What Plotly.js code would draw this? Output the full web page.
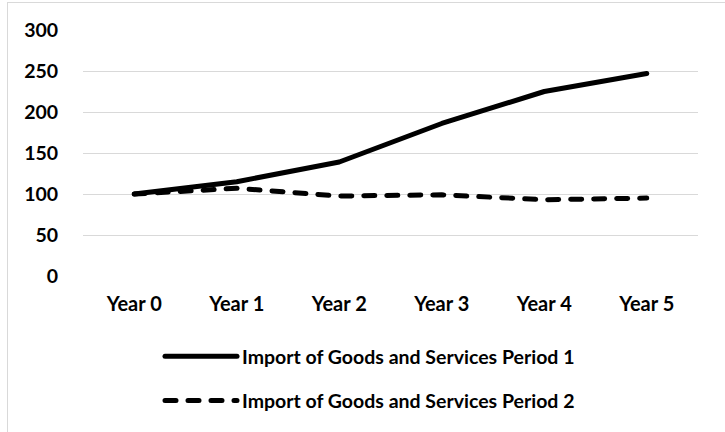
<!DOCTYPE html>
<html>
<head>
<meta charset="utf-8">
<script src="https://cdn.plot.ly/plotly-3.0.1.min.js"></script>
<style>
html,body{margin:0;padding:0;background:#fff;}
#wrap{position:relative;width:725px;height:432px;overflow:hidden;}
#chart{position:absolute;left:0;top:0;width:725px;height:432px;}
#frame{position:absolute;left:7px;top:2px;width:800px;height:500px;border:1px solid #d9d9d9;pointer-events:none;}
.js-line{stroke-linecap:round;stroke-linejoin:round;}
</style>
</head>
<body>
<div id="wrap"><div id="chart"></div><div id="frame"></div></div>
<script>
const categories = ["Year 0", "Year 1", "Year 2", "Year 3", "Year 4", "Year 5"];
const period1 = [100, 115, 139, 186, 225, 247];
const period2 = [100, 107, 97.5, 99, 93, 95];
const seriesNames = ["Import of Goods and Services Period 1", "Import of Goods and Services Period 2"];
const yTicks = [0, 50, 100, 150, 200, 250, 300];

const fontFam = "Lato, 'Open Sans', sans-serif";

const traces = [
  {x: categories, y: period1, name: seriesNames[0], type: "scatter", mode: "lines",
   legendgroup: "a", line: {color: "#000", width: 5}},
  {x: categories, y: period2, name: seriesNames[1], type: "scatter", mode: "lines",
   legendgroup: "b", line: {color: "#000", width: 5, dash: "11px,12px"}}
];

const layout = {
  width: 725, height: 432,
  margin: {l: 83, r: 27, t: 30, b: 156, autoexpand: false},
  paper_bgcolor: "#fff", plot_bgcolor: "#fff",
  font: {family: fontFam, color: "#000", size: 19, weight: "bold"},
  showlegend: true,
  legend: {
    orientation: "v", xref: "container", yref: "container",
    x: 160/725, xanchor: "left", y: 1 - 337/432, yanchor: "top",
    font: {family: fontFam, size: 19.5, color: "#000", weight: "bold"},
    itemwidth: 72, tracegroupgap: 16, bgcolor: "rgba(0,0,0,0)"
  },
  xaxis: {
    type: "category", range: [-0.5, categories.length - 0.5],
    showgrid: false, zeroline: false, showline: false,
    ticks: "outside", ticklen: 10, tickcolor: "rgba(0,0,0,0)", tickangle: 0,
    tickfont: {family: fontFam, size: 20, color: "#000", weight: "bold"},
    automargin: false, fixedrange: true
  },
  yaxis: {
    range: [0, 300], tickvals: yTicks, ticktext: yTicks.map(String),
    showgrid: true, gridcolor: "#d9d9d9", gridwidth: 1,
    zeroline: false, showline: false,
    ticks: "outside", ticklen: 20, tickcolor: "rgba(0,0,0,0)",
    tickfont: {family: fontFam, size: 19.5, color: "#000", weight: "bold"},
    automargin: false, fixedrange: true
  }
};

Plotly.newPlot("chart", traces, layout, {displayModeBar: false, staticPlot: true});
</script>
</body>
</html>
